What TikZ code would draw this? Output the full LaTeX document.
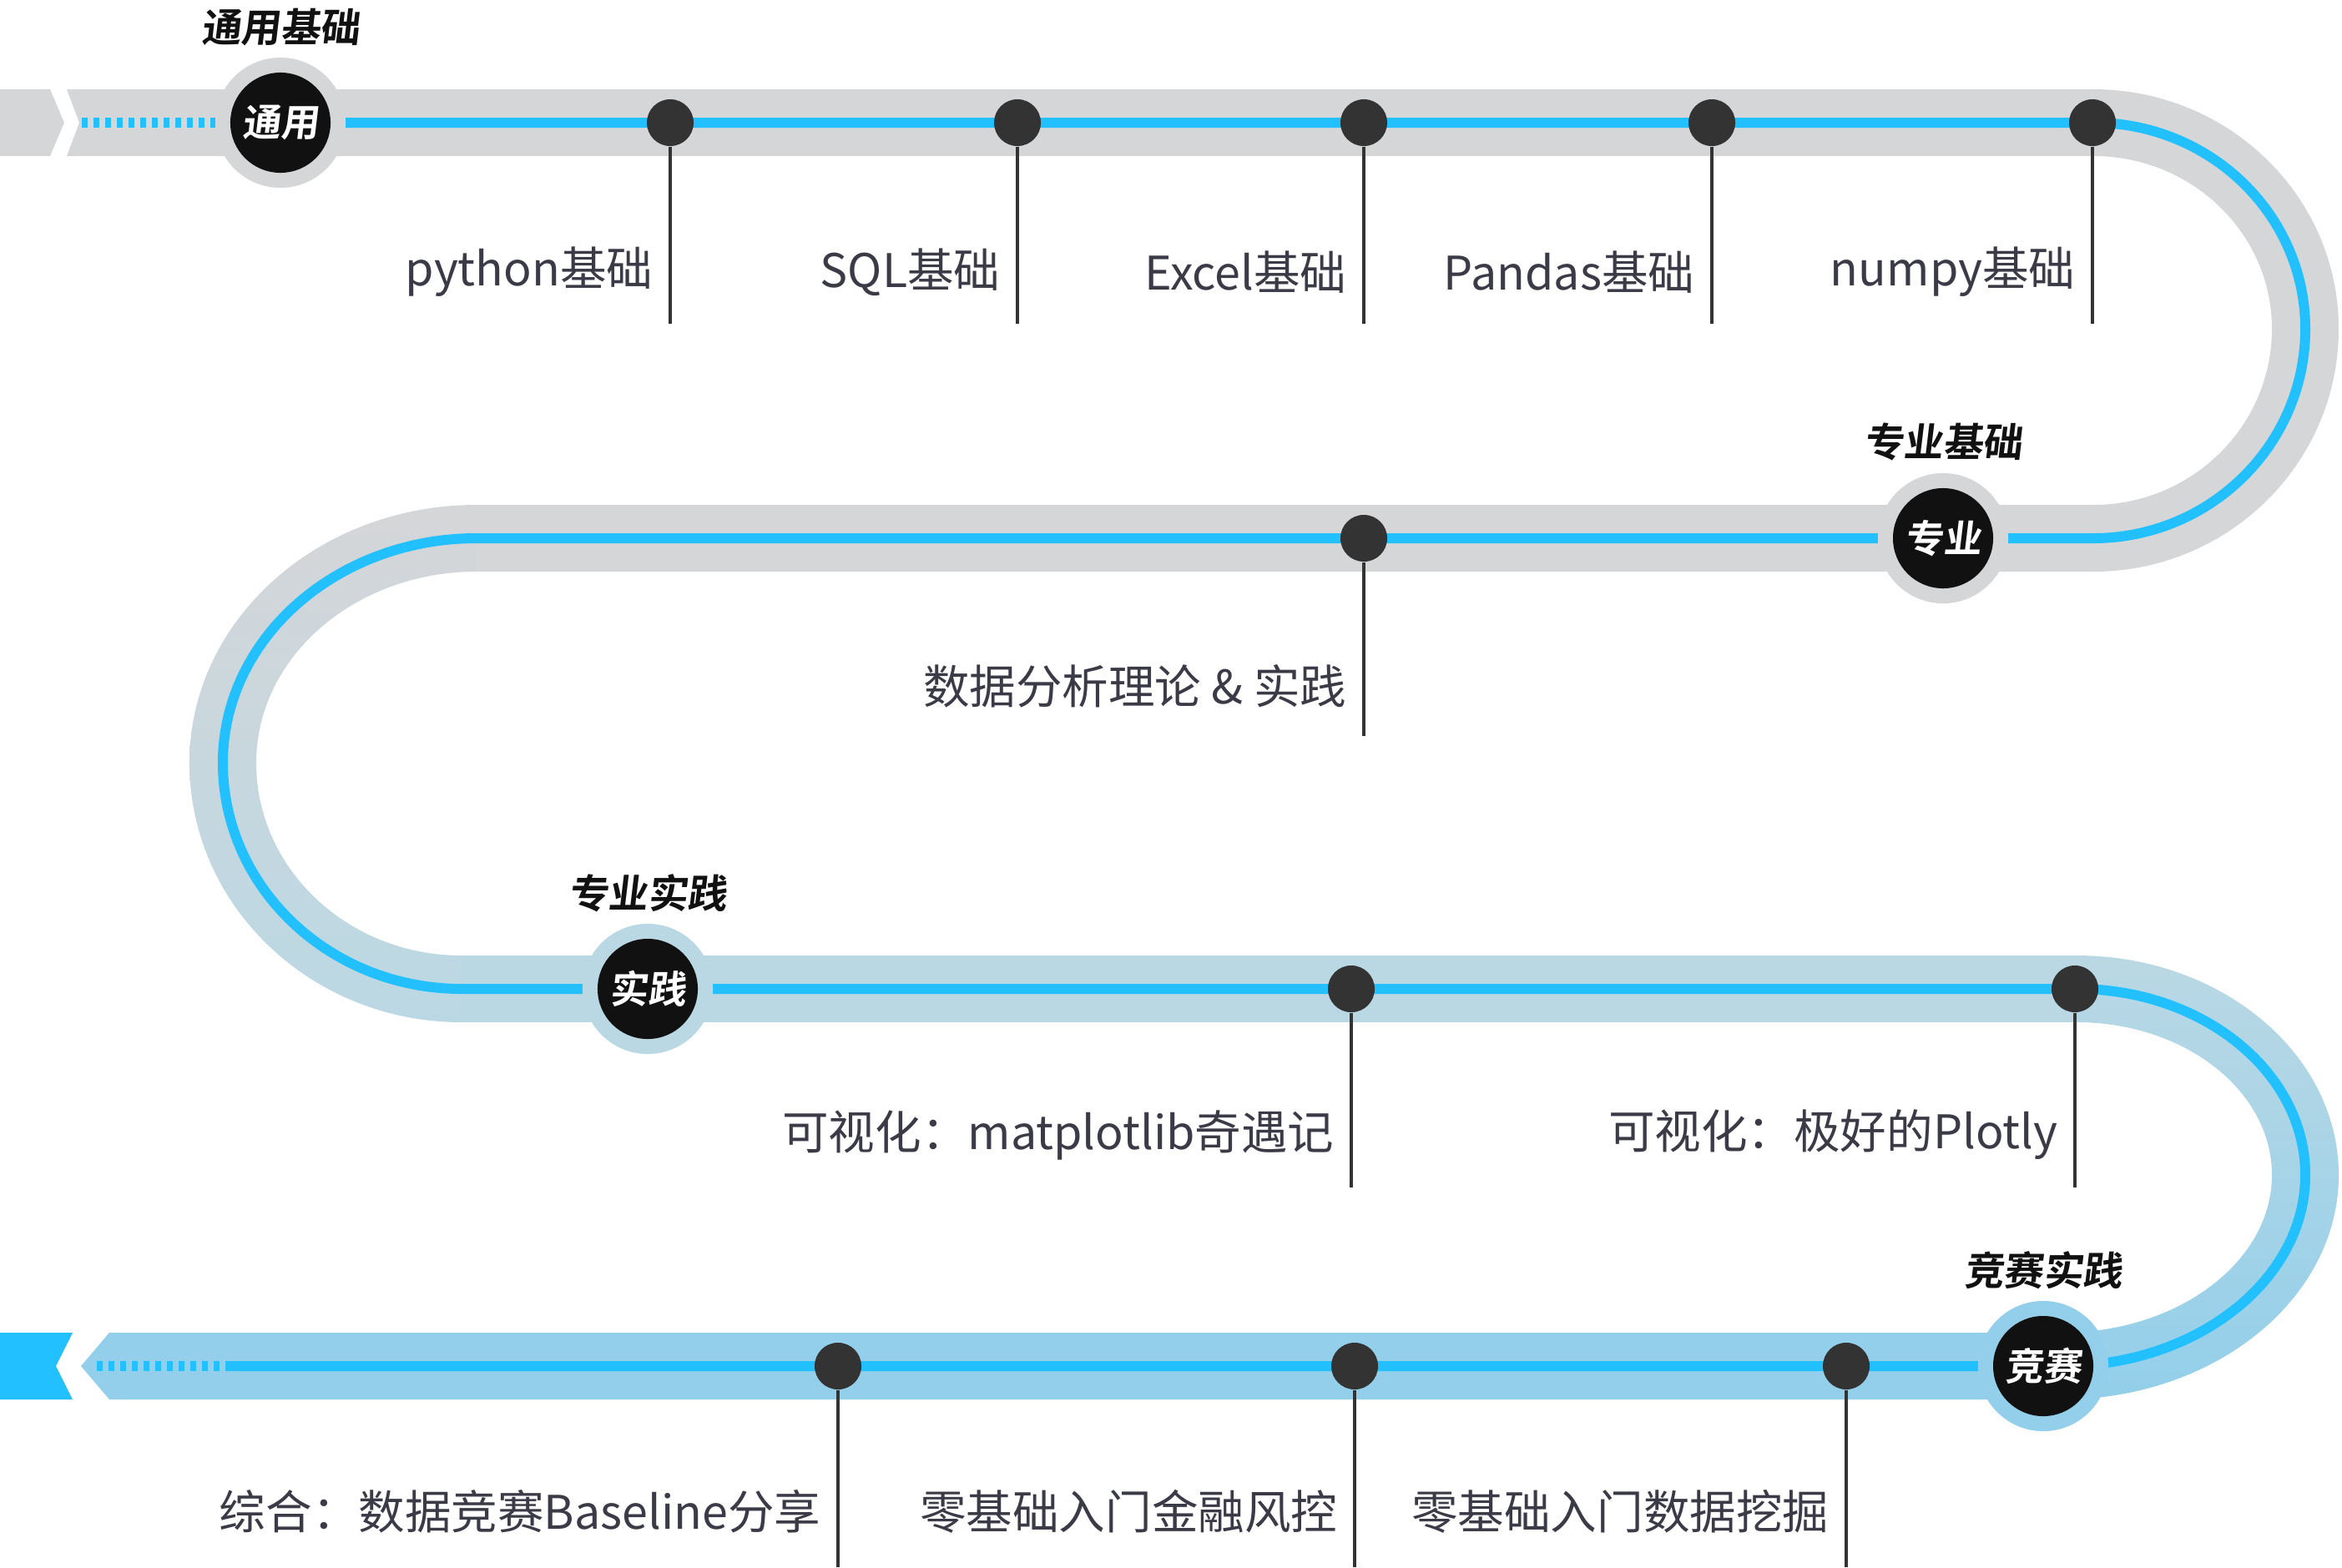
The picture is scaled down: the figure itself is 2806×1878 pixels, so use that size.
\documentclass[tikz,border=0pt]{standalone}
\usepackage{fontspec}
\setmainfont{Noto Sans CJK SC}
\newfontfamily\stagefont{Noto Sans CJK SC Bold}[FakeSlant=0.12]
\usetikzlibrary{positioning}

\definecolor{bandgrey}{HTML}{D5D6D8}
\definecolor{bandpale}{HTML}{BAD8E4}
\definecolor{bandblue}{HTML}{93CFEA}
\definecolor{lineblue}{HTML}{23C0FF}
\definecolor{dotgrey}{HTML}{333333}
\definecolor{stoneblack}{HTML}{111111}
\definecolor{topictext}{HTML}{3A3B47}

\begin{document}
\begin{tikzpicture}[x=0.01cm, y=-0.01cm,
  dot/.style={circle, fill=dotgrey, minimum size=0.56cm, inner sep=0pt},
  stem/.style={draw=dotgrey, line width=0.035cm},
  halo/.style={circle, minimum size=1.56cm, inner sep=0pt},
  stone/.style={circle, fill=stoneblack, minimum size=1.2cm, inner sep=0pt, text=white,
    font=\stagefont\fontsize{13pt}{15pt}\selectfont},
  stagetitle/.style={inner sep=0pt, text=stoneblack, font=\stagefont\fontsize{13.5pt}{16pt}\selectfont},
  topic/.style={anchor=east, inner sep=0pt, text=topictext, font=\fontsize{15.8pt}{19pt}\selectfont},
  track/.style={draw=lineblue, line width=0.12cm},
  trackdash/.style={track, dash pattern=on 0.07cm off 0.07cm}]
\useasboundingbox (0,0) rectangle (2806,1878);

% band
\fill[bandgrey] (0,107) -- (60,107) -- (77,147) -- (60,187) -- (0,187) -- cycle;
\fill[bandgrey] (80,107) -- (2510,107) -- (2510,187) -- (80,187) -- (95,147) -- cycle;
\fill[bandgrey] (2508,107) arc[start angle=-90, end angle=0, x radius=294, y radius=287]
  arc[start angle=0, end angle=90, x radius=294, y radius=291] -- (2508,605)
  arc[start angle=90, end angle=0, x radius=214, y radius=211]
  arc[start angle=0, end angle=-90, x radius=214, y radius=207] -- cycle;
\fill[bandgrey] (569,605) rectangle (2510,685);
\shade[top color=bandgrey, bottom color=bandpale] (571,605)
  arc[start angle=-90, end angle=-180, x radius=344, y radius=309]
  arc[start angle=180, end angle=90, x radius=326, y radius=311] -- (553,1145)
  arc[start angle=90, end angle=180, x radius=246, y radius=231]
  arc[start angle=180, end angle=270, x radius=264, y radius=229] -- cycle;
\fill[bandpale] (551,1145) rectangle (2490,1225);
\shade[top color=bandpale, bottom color=bandblue] (2488,1145)
  arc[start angle=-90, end angle=0, x radius=314, y radius=263]
  arc[start angle=0, end angle=90, x radius=332, y radius=269] -- (2470,1597)
  arc[start angle=90, end angle=0, x radius=252, y radius=189]
  arc[start angle=0, end angle=-90, x radius=234, y radius=183] -- cycle;
\fill[bandblue] (131,1597) -- (2472,1597) -- (2472,1677) -- (131,1677) -- (97,1637) -- cycle;
\fill[lineblue] (0,1597) -- (87,1597) -- (67,1637) -- (87,1677) -- (0,1677) -- cycle;

% blue track
\draw[trackdash] (98,147) -- (264,147);
\draw[trackdash] (116,1637) -- (277,1637);
\draw[track] (336,147) -- (2508,147)
  arc[start angle=-90, end angle=0, x radius=254, y radius=247]
  arc[start angle=0, end angle=90, x radius=254, y radius=251] -- (571,645)
  arc[start angle=-90, end angle=-180, x radius=304, y radius=269]
  arc[start angle=180, end angle=90, x radius=286, y radius=271] -- (2488,1185)
  arc[start angle=-90, end angle=0, x radius=274, y radius=223]
  arc[start angle=0, end angle=90, x radius=292, y radius=229] -- (277,1637);

% stages
\node[halo, fill=bandgrey] (h1) at (336,147) {};
\node[stone] (s1) at (h1) {通用};
\node[stagetitle, above=0.13cm of h1] (t1) {通用基础};
\node[halo, fill=bandgrey] (h2) at (2328,645) {};
\node[stone] (s2) at (h2) {专业};
\node[stagetitle, above=0.13cm of h2] (t2) {专业基础};
\node[halo, fill=bandpale] (h3) at (776,1185) {};
\node[stone] (s3) at (h3) {实践};
\node[stagetitle, above=0.13cm of h3] (t3) {专业实践};
\node[halo, fill=bandblue] (h4) at (2448,1637) {};
\node[stone] (s4) at (h4) {竞赛};
\node[stagetitle, above=0.13cm of h4] (t4) {竞赛实践};

% row 1
\node[dot] (d1) at (803,147) {};
\node[dot] (d2) at (1219,147) {};
\node[dot] (d3) at (1634,147) {};
\node[dot] (d4) at (2051,147) {};
\node[dot] (d5) at (2507,147) {};
\coordinate (e1) at (803,388);
\coordinate (e2) at (1219,388);
\coordinate (e3) at (1634,388);
\coordinate (e4) at (2051,388);
\coordinate (e5) at (2507,388);
\draw[stem] (d1.south) -- (e1);
\draw[stem] (d2.south) -- (e2);
\draw[stem] (d3.south) -- (e3);
\draw[stem] (d4.south) -- (e4);
\draw[stem] (d5.south) -- (e5);
\node[topic] (l1) at (783,326) {python基础};
\node[topic] (l2) at (1199,326) {SQL基础};
\node[topic] (l3) at (1614,326) {Excel基础};
\node[topic] (l4) at (2031,326) {Pandas基础};
\node[topic] (l5) at (2487,326) {numpy基础};

% row 2
\node[dot] (d6) at (1634,645) {};
\coordinate (e6) at (1634,882);
\draw[stem] (d6.south) -- (e6);
\node[topic] (l6) at (1614,822) {数据分析理论 \& 实践};

% row 3
\node[dot] (d7) at (1619,1185) {};
\node[dot] (d8) at (2486,1185) {};
\coordinate (e7) at (1619,1423);
\coordinate (e8) at (2486,1423);
\draw[stem] (d7.south) -- (e7);
\draw[stem] (d8.south) -- (e8);
\node[topic] (l7) at (1599,1360) {可视化：matplotlib奇遇记};
\node[topic] (l8) at (2466,1360) {可视化：极好的Plotly};

% row 4
\node[dot] (d9) at (1004,1637) {};
\node[dot] (d10) at (1623,1637) {};
\node[dot] (d11) at (2212,1637) {};
\coordinate (e9) at (1004,1878);
\coordinate (e10) at (1623,1878);
\coordinate (e11) at (2212,1878);
\draw[stem] (d9.south) -- (e9);
\draw[stem] (d10.south) -- (e10);
\draw[stem] (d11.south) -- (e11);
\node[topic] (l9) at (984,1811) {综合：数据竞赛Baseline分享};
\node[topic] (l10) at (1603,1811) {零基础入门金融风控};
\node[topic] (l11) at (2192,1811) {零基础入门数据挖掘};
\end{tikzpicture}
\end{document}
